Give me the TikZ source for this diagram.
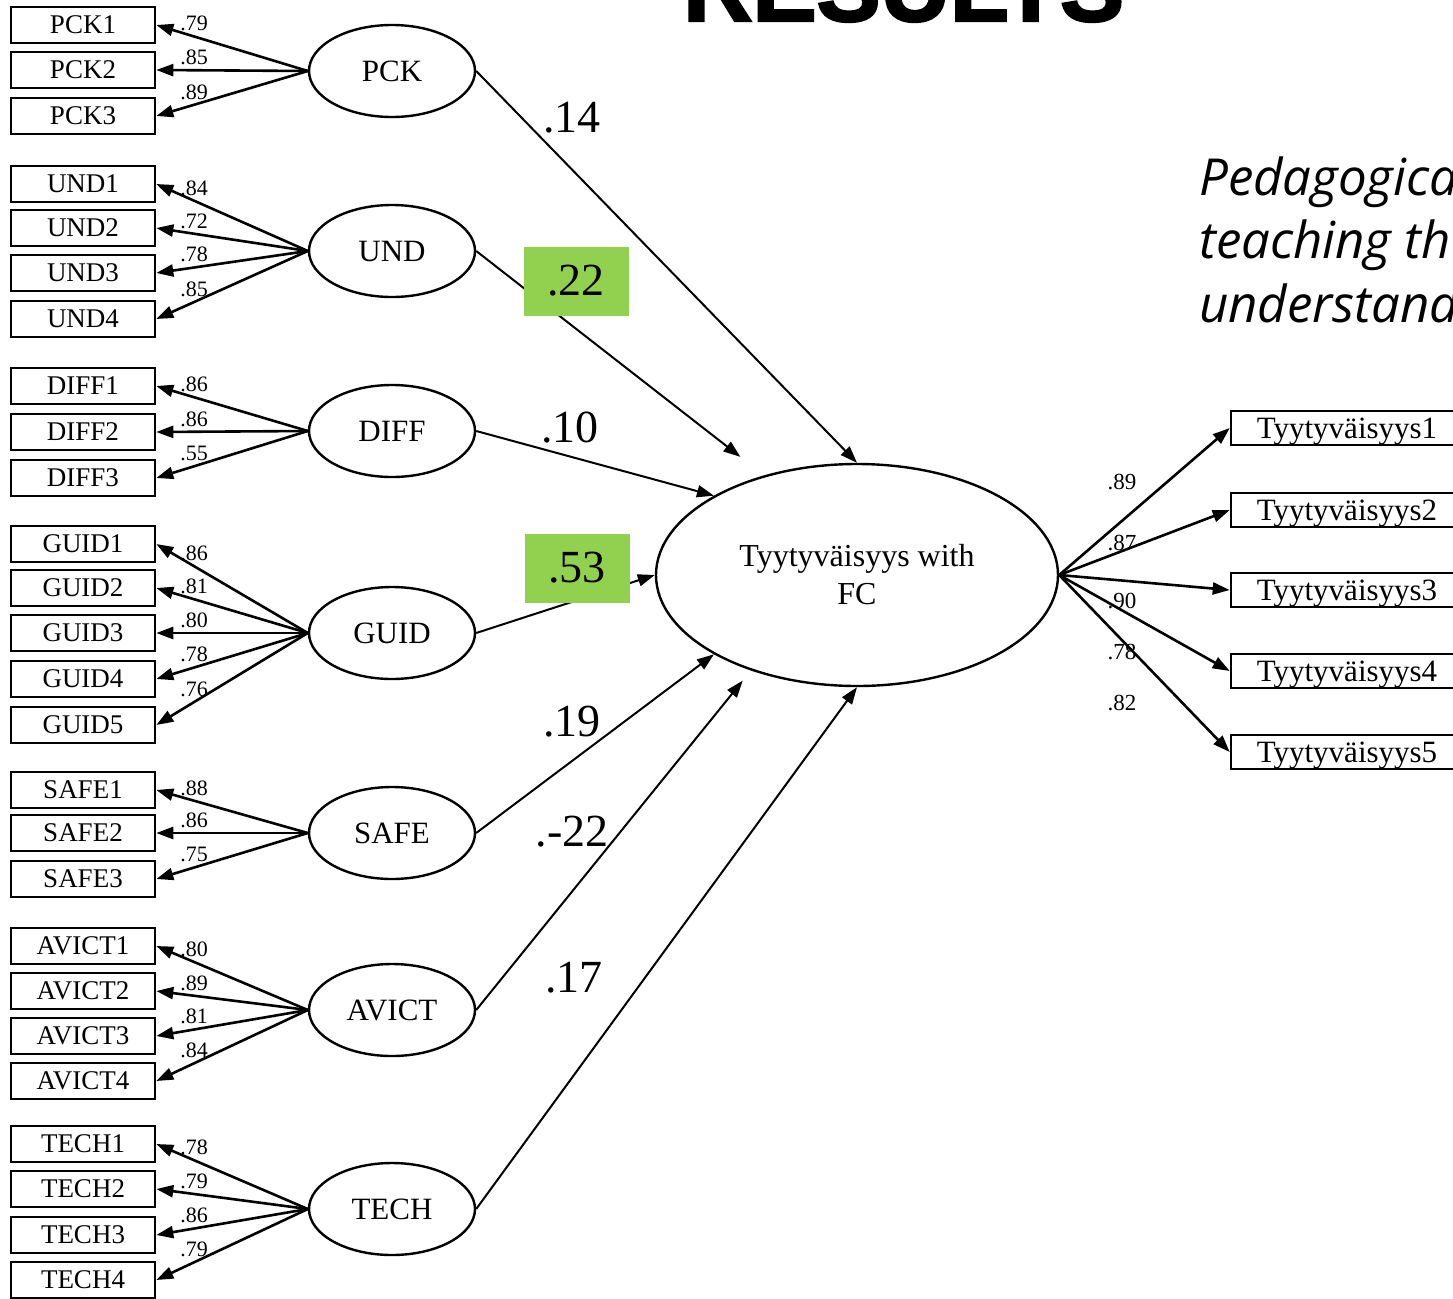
\documentclass[tikz,border=0pt]{standalone}
\usepackage{fontspec}
\setmainfont{Liberation Serif}
\newfontfamily\titlefont{Liberation Sans}[BoldFeatures={FakeBold=2.5}]
\newfontfamily\notefont{Open Sans}
\usetikzlibrary{arrows.meta,shapes.geometric}

\definecolor{sigGreen}{HTML}{92D050}

\tikzset{
  item/.style={draw, line width=2.6pt, minimum width=144pt, minimum height=36pt,
    inner sep=0pt, font=\fontsize{27}{30}\selectfont},
  outitem/.style={item, minimum width=232pt, minimum height=34pt, text depth=0pt,
    font=\fontsize{31}{33}\selectfont},
  latent/.style={draw, ellipse, line width=2.4pt, minimum width=166pt,
    minimum height=92pt, inner sep=0pt, font=\fontsize{31}{33}\selectfont},
  load/.style={line width=2.6pt, -{Triangle[length=17pt,width=12pt]}},
  effect/.style={line width=2pt, -{Triangle[length=17pt,width=12pt]}},
  lbl/.style={font=\fontsize{22}{24}\selectfont, inner sep=0pt, above=4pt, pos=0.75},
  rlbl/.style={font=\fontsize{23}{25}\selectfont, inner sep=0pt},
  coef/.style={font=\fontsize{46}{48}\selectfont, inner sep=0pt},
  hilite/.style={coef, fill=sigGreen, minimum width=105pt, minimum height=69pt},
  note/.style={font=\notefont\itshape\fontsize{51}{55}\selectfont, anchor=base west, inner sep=0pt}
}

\begin{document}
\begin{tikzpicture}[x=1pt, y=-1pt]
    \useasboundingbox (0,0) rectangle (1453,1298);

    % Title and side note (cut off by the page)
    \node[font=\titlefont\bfseries\fontsize{96}{100}\selectfont, anchor=base west, inner sep=0pt]
      (title) at (683,21) {RESULTS};
    \node[note] (note1) at (1199,195) {Pedagogica};
    \node[note] (note2) at (1199,258) {teaching th};
    \node[note] (note3) at (1199,322) {understand};

    % Latent factors
    \node[latent] (pck) at (392,71) {PCK};
    \node[latent] (und) at (392,251) {UND};
    \node[latent] (diff) at (392,431) {DIFF};
    \node[latent] (guid) at (392,633) {GUID};
    \node[latent] (safe) at (392,833) {SAFE};
    \node[latent] (avict) at (392,1010) {AVICT};
    \node[latent] (tech) at (392,1209) {TECH};
    \node[latent, minimum width=402pt, minimum height=222pt, align=center,
      font=\fontsize{32}{38}\selectfont] (fc) at (857,575) {Tyytyväisyys with\\FC};

    % PCK indicators
    \node[item] (pck1) at (83,25) {PCK1};
    \node[item] (pck2) at (83,70) {PCK2};
    \node[item] (pck3) at (83,116) {PCK3};
    \draw[load] (pck.west) -- node[lbl] {.79} (pck1.east);
    \draw[load] (pck.west) -- node[lbl] {.85} (pck2.east);
    \draw[load] (pck.west) -- node[lbl] {.89} (pck3.east);

    % UND indicators
    \node[item] (und1) at (83,184) {UND1};
    \node[item] (und2) at (83,228) {UND2};
    \node[item] (und3) at (83,273) {UND3};
    \node[item] (und4) at (83,319) {UND4};
    \draw[load] (und.west) -- node[lbl] {.84} (und1.east);
    \draw[load] (und.west) -- node[lbl] {.72} (und2.east);
    \draw[load] (und.west) -- node[lbl] {.78} (und3.east);
    \draw[load] (und.west) -- node[lbl] {.85} (und4.east);

    % DIFF indicators
    \node[item] (diff1) at (83,386) {DIFF1};
    \node[item] (diff2) at (83,432) {DIFF2};
    \node[item] (diff3) at (83,478) {DIFF3};
    \draw[load] (diff.west) -- node[lbl] {.86} (diff1.east);
    \draw[load] (diff.west) -- node[lbl] {.86} (diff2.east);
    \draw[load] (diff.west) -- node[lbl] {.55} (diff3.east);

    % GUID indicators
    \node[item] (guid1) at (83,544) {GUID1};
    \node[item] (guid2) at (83,588) {GUID2};
    \node[item] (guid3) at (83,633) {GUID3};
    \node[item] (guid4) at (83,679) {GUID4};
    \node[item] (guid5) at (83,725) {GUID5};
    \draw[load] (guid.west) -- node[lbl] {.86} (guid1.east);
    \draw[load] (guid.west) -- node[lbl] {.81} (guid2.east);
    \draw[load] (guid.west) -- node[lbl] {.80} (guid3.east);
    \draw[load] (guid.west) -- node[lbl] {.78} (guid4.east);
    \draw[load] (guid.west) -- node[lbl] {.76} (guid5.east);

    % SAFE indicators
    \node[item] (safe1) at (83,790) {SAFE1};
    \node[item] (safe2) at (83,833) {SAFE2};
    \node[item] (safe3) at (83,879) {SAFE3};
    \draw[load] (safe.west) -- node[lbl] {.88} (safe1.east);
    \draw[load] (safe.west) -- node[lbl] {.86} (safe2.east);
    \draw[load] (safe.west) -- node[lbl] {.75} (safe3.east);

    % AVICT indicators
    \node[item] (avict1) at (83,946) {AVICT1};
    \node[item] (avict2) at (83,991) {AVICT2};
    \node[item] (avict3) at (83,1036) {AVICT3};
    \node[item] (avict4) at (83,1081) {AVICT4};
    \draw[load] (avict.west) -- node[lbl] {.80} (avict1.east);
    \draw[load] (avict.west) -- node[lbl] {.89} (avict2.east);
    \draw[load] (avict.west) -- node[lbl] {.81} (avict3.east);
    \draw[load] (avict.west) -- node[lbl] {.84} (avict4.east);

    % TECH indicators
    \node[item] (tech1) at (83,1144) {TECH1};
    \node[item] (tech2) at (83,1189) {TECH2};
    \node[item] (tech3) at (83,1235) {TECH3};
    \node[item] (tech4) at (83,1280) {TECH4};
    \draw[load] (tech.west) -- node[lbl] {.78} (tech1.east);
    \draw[load] (tech.west) -- node[lbl] {.79} (tech2.east);
    \draw[load] (tech.west) -- node[lbl] {.86} (tech3.east);
    \draw[load] (tech.west) -- node[lbl] {.79} (tech4.east);

    % Outcome indicators
    \node[outitem] (ty1) at (1347,428) {Tyytyväisyys1};
    \node[outitem] (ty2) at (1347,510) {Tyytyväisyys2};
    \node[outitem] (ty3) at (1347,590) {Tyytyväisyys3};
    \node[outitem] (ty4) at (1347,671) {Tyytyväisyys4};
    \node[outitem] (ty5) at (1347,752) {Tyytyväisyys5};
    \draw[load] (fc.east) -- (ty1.west);
    \draw[load] (fc.east) -- (ty2.west);
    \draw[load] (fc.east) -- (ty3.west);
    \draw[load] (fc.east) -- (ty4.west);
    \draw[load] (fc.east) -- (ty5.west);
    \node[rlbl] (r1) at (1122,482) {.89};
    \node[rlbl] (r2) at (1122,543) {.87};
    \node[rlbl] (r3) at (1122,601) {.90};
    \node[rlbl] (r4) at (1122,652) {.78};
    \node[rlbl] (r5) at (1122,703) {.82};

    % Structural paths
    \draw[effect] (pck.east) -- (fc.north);
    \draw[effect, shorten >=30pt] (und.east) -- (fc.133.5);
    \draw[effect] (diff.east) -- (fc.151);
    \draw[effect] (guid.east) -- (fc.west);
    \draw[effect] (safe.east) -- (fc.209);
    \draw[effect, shorten >=13pt] (avict.east) -- (fc.222.4);
    \draw[effect] (tech.east) -- (fc.south);

    % Path coefficients
    \node[coef] (c1) at (572,118) {.14};
    \node[hilite] (c2) at (576,281) {.22};
    \node[coef] (c3) at (570,428) {.10};
    \node[hilite] (c4) at (577,568) {.53};
    \node[coef] (c5) at (572,722) {.19};
    \node[coef] (c6) at (572,832) {.-22};
    \node[coef] (c7) at (574,978) {.17};
\end{tikzpicture}
\end{document}
